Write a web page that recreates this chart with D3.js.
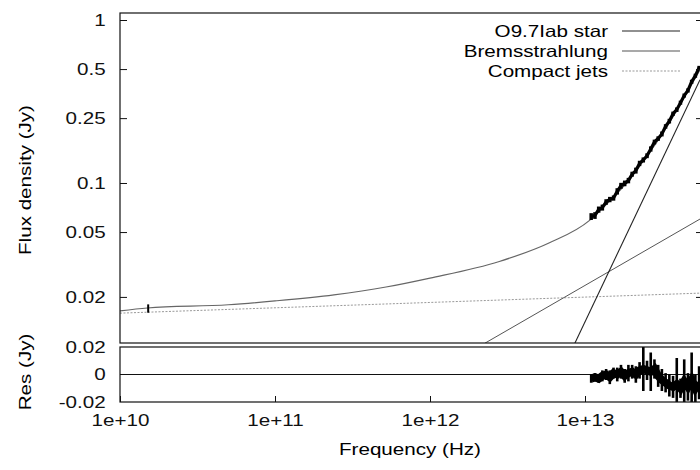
<!DOCTYPE html>
<html>
<head>
<meta charset="utf-8">
<script src="https://cdn.jsdelivr.net/npm/d3@7"></script>
<style>
  body { margin: 0; background: #fff; }
  svg { display: block; font-family: "Liberation Sans", Arial, sans-serif; }
  .axis path { display: none; }
  .axis line { stroke: #111; }
  .axis text { font-size: 16.5px; fill: #111; }
</style>
</head>
<body>
<div id="chart"></div>
<script>
// observed spectrum (Hz, Jy)
const specFreq = [1.096e13, 1.159e13, 1.225e13, 1.294e13, 1.368e13, 1.445e13, 1.528e13, 1.614e13, 1.706e13, 1.803e13,
  1.905e13, 2.014e13, 2.128e13, 2.249e13, 2.377e13, 2.512e13, 2.655e13, 2.805e13, 2.965e13, 3.133e13,
  3.311e13, 3.499e13, 3.698e13, 3.908e13, 4.130e13, 4.365e13, 4.613e13, 4.875e13, 5.152e13, 5.445e13]
const specFlux = [0.0623, 0.0632, 0.0687, 0.0707, 0.0765, 0.0792, 0.0809, 0.0889, 0.0962, 0.0995,
  0.1035, 0.1133, 0.1192, 0.1319, 0.1385, 0.1470, 0.1617, 0.1785, 0.1874, 0.2000,
  0.2225, 0.2397, 0.2662, 0.2818, 0.3111, 0.3440, 0.3697, 0.4181, 0.4553, 0.5093]
const specErr = [0.003, 0.003, 0.003, 0.003, 0.003, 0.003, 0.003, 0.004, 0.004, 0.004,
  0.004, 0.004, 0.005, 0.005, 0.005, 0.005, 0.006, 0.006, 0.006, 0.007,
  0.007, 0.008, 0.008, 0.009, 0.009, 0.010, 0.011, 0.012, 0.013, 0.014]

// residuals (Jy) on the same frequencies
const resVal = [-0.003, -0.002, -0.003, -0.001, 0.000, -0.002, 0.001, 0.000, 0.002, -0.001,
  0.001, 0.002, 0.000, 0.003, 0.004, 0.003, 0.002, 0.004, -0.001, -0.004,
  -0.006, -0.008, -0.009, -0.007, -0.010, -0.005, -0.009, -0.004, -0.010, -0.006]
const resErr = [0.003, 0.003, 0.003, 0.004, 0.004, 0.005, 0.004, 0.005, 0.005, 0.005,
  0.006, 0.005, 0.006, 0.006, 0.016, 0.007, 0.014, 0.007, 0.008, 0.008,
  0.007, 0.008, 0.008, 0.019, 0.007, 0.016, 0.010, 0.020, 0.010, 0.012]

// radio point
const radioPoint = { freq: 1.52e10, flux: 0.0170, err: 0.0010, res: 0 }

// total model curve
const modelFreq = [1e10, 1.5e10, 5e10, 1e11, 2.4e11, 5.2e11, 1e12, 2.8e12, 5.9e12, 1.07e13,
  1.26e13, 1.58e13, 2e13, 2.5e13, 3.16e13, 3.98e13, 5.01e13, 5.5e13, 5.77e13]
const modelFlux = [0.0164, 0.0171, 0.0179, 0.0189, 0.0206, 0.023, 0.0261, 0.033, 0.043, 0.059,
  0.0682, 0.0846, 0.109, 0.1455, 0.201, 0.287, 0.421, 0.493, 0.54]

// components (straight in log-log, two ends each)
const starLine = [[8.6e12, 0.0104], [5.52e13, 0.43]]
const bremsLine = [[2.26e12, 0.0104], [5.52e13, 0.0601]]
const jetsLine = [[1e10, 0.0159], [5.52e13, 0.0211]]

const legendNames = ['O9.7Iab star', 'Bremsstrahlung', 'Compact jets']

const fluxTicks = [1, 0.5, 0.25, 0.1, 0.05, 0.02]
const fluxTickLabels = ['1', '0.5', '0.25', '0.1', '0.05', '0.02']
const resTicks = [0.02, 0, -0.02]
const resTickLabels = ['0.02', '0', '-0.02']
const freqTicks = [1e10, 1e11, 1e12, 1e13]
const freqTickLabels = ['1e+10', '1e+11', '1e+12', '1e+13']

const W = 700, H = 470
const left = 120, right = 703
const topY = 13, topB = 343, resT = 347, resB = 402
const sx = 1.25

const svg = d3.select('#chart').append('svg').attr('width', W).attr('height', H)

const x = d3.scaleLog().domain([1e10, 5.77e13]).range([left, right])
const y = d3.scaleLog().domain([0.01043, 1.104]).range([topB, topY])
const yr = d3.scaleLinear().domain([-0.02, 0.02]).range([resB, resT])

const defs = svg.append('defs')
defs.append('clipPath').attr('id', 'clipTop').append('rect')
  .attr('x', left).attr('y', topY).attr('width', right - left).attr('height', topB - topY)
defs.append('clipPath').attr('id', 'clipRes').append('rect')
  .attr('x', left).attr('y', resT).attr('width', right - left).attr('height', resB - resT)

const line = d3.line().x(d => x(d[0])).y(d => y(d[1]))

const gTop = svg.append('g').attr('clip-path', 'url(#clipTop)')

gTop.append('path').datum(jetsLine).attr('d', line)
  .attr('fill', 'none').attr('stroke', '#999').attr('stroke-width', 1).attr('stroke-dasharray', '2,1.5')
gTop.append('path').datum(bremsLine).attr('d', line)
  .attr('fill', 'none').attr('stroke', '#555').attr('stroke-width', 1)
gTop.append('path').datum(starLine).attr('d', line)
  .attr('fill', 'none').attr('stroke', '#222').attr('stroke-width', 1.1)
gTop.append('path').datum(d3.zip(modelFreq, modelFlux))
  .attr('d', d3.line().curve(d3.curveMonotoneX).x(d => x(d[0])).y(d => y(d[1])))
  .attr('fill', 'none').attr('stroke', '#666').attr('stroke-width', 1.2)

// data
const spec = specFreq.map((f, i) => ({ f: f, v: specFlux[i], e: specErr[i] }))
gTop.selectAll('.eb').data(spec).enter().append('line')
  .attr('x1', d => x(d.f)).attr('x2', d => x(d.f))
  .attr('y1', d => y(d.v - d.e)).attr('y2', d => y(d.v + d.e))
  .attr('stroke', '#000').attr('stroke-width', 3.5)
gTop.append('path').datum(spec)
  .attr('d', d3.line().x(d => x(d.f)).y(d => y(d.v)))
  .attr('fill', 'none').attr('stroke', '#000').attr('stroke-width', 3.2)

gTop.append('line')
  .attr('x1', x(radioPoint.freq)).attr('x2', x(radioPoint.freq))
  .attr('y1', y(radioPoint.flux - radioPoint.err)).attr('y2', y(radioPoint.flux + radioPoint.err))
  .attr('stroke', '#000').attr('stroke-width', 2)

// residual panel
const gRes = svg.append('g').attr('clip-path', 'url(#clipRes)')
gRes.append('line').attr('x1', left).attr('x2', right).attr('y1', yr(0)).attr('y2', yr(0))
  .attr('stroke', '#111').attr('stroke-width', 1.2)
const res = specFreq.map((f, i) => ({ f: f, v: resVal[i], e: resErr[i] }))
gRes.selectAll('.rb').data(res).enter().append('line')
  .attr('x1', d => x(d.f)).attr('x2', d => x(d.f))
  .attr('y1', d => yr(d.v - d.e)).attr('y2', d => yr(d.v + d.e))
  .attr('stroke', '#000').attr('stroke-width', 2.6)
gRes.append('path').datum(res)
  .attr('d', d3.line().x(d => x(d.f)).y(d => yr(d.v)))
  .attr('fill', 'none').attr('stroke', '#000').attr('stroke-width', 8)

// frames
svg.append('rect').attr('x', left).attr('y', topY).attr('width', right - left).attr('height', topB - topY)
  .attr('fill', 'none').attr('stroke', '#111').attr('stroke-width', 1.2)
svg.append('rect').attr('x', left).attr('y', resT).attr('width', right - left).attr('height', resB - resT)
  .attr('fill', 'none').attr('stroke', '#111').attr('stroke-width', 1.2)

// axes
const stretch = g => g.selectAll('text').attr('transform', `scale(${sx},1)`)

svg.append('g').attr('class', 'axis').attr('transform', `translate(${left},0)`)
  .call(d3.axisLeft(y).tickValues(fluxTicks).tickFormat((d, i) => fluxTickLabels[i])
    .tickSizeInner(-7).tickSizeOuter(0).tickPadding(11.5))
  .call(stretch)
svg.append('g').attr('class', 'axis').attr('transform', `translate(${right},0)`)
  .call(d3.axisRight(y).tickValues(fluxTicks).tickFormat('').tickSizeInner(-7).tickSizeOuter(0))

svg.append('g').attr('class', 'axis').attr('transform', `translate(${left},0)`)
  .call(d3.axisLeft(yr).tickValues(resTicks).tickFormat((d, i) => resTickLabels[i])
    .tickSizeInner(0).tickSizeOuter(0).tickPadding(11.5))
  .call(stretch)

svg.append('g').attr('class', 'axis').attr('transform', `translate(0,${resB})`)
  .call(d3.axisBottom(x).tickValues(freqTicks).tickFormat((d, i) => freqTickLabels[i])
    .tickSizeInner(-6).tickSizeOuter(0).tickPadding(12))
  .call(stretch)

// axis titles
svg.append('text').attr('transform', `translate(410,455) scale(${sx},1)`)
  .attr('text-anchor', 'middle').attr('font-size', 16.5).text('Frequency (Hz)')
svg.append('text').attr('transform', `translate(31,180) rotate(-90) scale(${sx},1)`)
  .attr('text-anchor', 'middle').attr('font-size', 16.5).text('Flux density (Jy)')
svg.append('text').attr('transform', `translate(31,372) rotate(-90) scale(${sx},1)`)
  .attr('text-anchor', 'middle').attr('font-size', 16.5).text('Res (Jy)')

// legend
const legStyles = [
  { stroke: '#222', dash: null },
  { stroke: '#555', dash: null },
  { stroke: '#999', dash: '2,1.5' }
]
const leg = svg.append('g')
legendNames.forEach((name, i) => {
  const yy = 31 + i * 20
  leg.append('text').attr('transform', `translate(608,${yy + 6}) scale(${sx},1)`)
    .attr('text-anchor', 'end').attr('font-size', 16.5).text(name)
  leg.append('line').attr('x1', 622).attr('x2', 680).attr('y1', yy).attr('y2', yy)
    .attr('stroke', legStyles[i].stroke).attr('stroke-width', 1.1)
    .attr('stroke-dasharray', legStyles[i].dash)
})
</script>
</body>
</html>
